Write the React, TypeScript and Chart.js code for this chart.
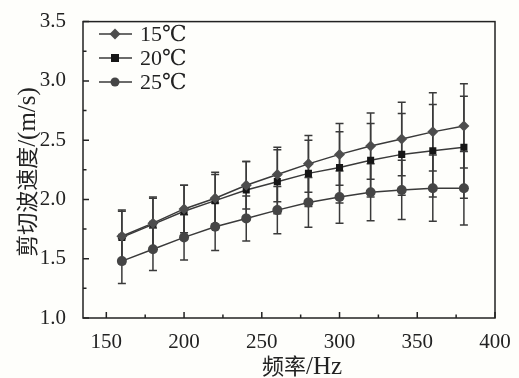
import React, { useEffect, useRef } from "react";
import { Chart, registerables } from "chart.js";

Chart.register(...registerables);

const freqs = [160, 180, 200, 220, 240, 260, 280, 300, 320, 340, 360, 380];
const v15 = [1.69, 1.8, 1.92, 2.01, 2.12, 2.21, 2.3, 2.38, 2.45, 2.51, 2.57, 2.62];
const e15 = [0.22, 0.22, 0.2, 0.22, 0.2, 0.23, 0.24, 0.26, 0.28, 0.31, 0.33, 0.355];
const v20 = [1.68, 1.79, 1.9, 1.99, 2.08, 2.15, 2.22, 2.27, 2.33, 2.38, 2.41, 2.44];
const e20 = [0.22, 0.22, 0.22, 0.22, 0.24, 0.27, 0.28, 0.3, 0.31, 0.345, 0.39, 0.43];
const v25 = [1.48, 1.58, 1.68, 1.77, 1.84, 1.91, 1.975, 2.02, 2.06, 2.08, 2.095, 2.095];
const e25 = [0.19, 0.18, 0.19, 0.2, 0.19, 0.2, 0.21, 0.22, 0.24, 0.25, 0.28, 0.31];
const seriesLabels = ["15℃", "20℃", "25℃"];
const xTicks = [150, 200, 250, 300, 350, 400];
const xMinor = [175, 225, 275, 325, 375];
const yTicks = [1.0, 1.5, 2.0, 2.5, 3.0, 3.5];
const yMinor = [1.25, 1.75, 2.25, 2.75, 3.25];
const xTitle = "频率/Hz";
const yTitle = "剪切波速度/(m/s)";

const LINE = "#3a3a3a";
const TEXT = "#222";
const FONT = "'Liberation Serif', 'DejaVu Serif', 'Noto Sans CJK SC', serif";
const CJK_FONT = "22px 'Noto Sans CJK SC', sans-serif";
const LAT_FONT = "25px 'Liberation Serif', serif";
const styles = [
  { pointStyle: "rectRot", radius: 5.5, fill: "#4d4d4d" },
  { pointStyle: "rect", radius: 5, fill: "#161616" },
  { pointStyle: "circle", radius: 5, fill: "#454545" },
];
const errs = [e15, e20, e25];

function splitParts(text: string) {
  const parts: { t: string; f: string }[] = [];
  for (const ch of text) {
    const cjk = /[\u4e00-\u9fff]/.test(ch);
    const f = cjk ? CJK_FONT : LAT_FONT;
    if (parts.length && parts[parts.length - 1].f === f) parts[parts.length - 1].t += ch;
    else parts.push({ t: ch, f });
  }
  return parts;
}

function drawMixed(ctx: CanvasRenderingContext2D, text: string, cx: number, cy: number) {
  const parts = splitParts(text);
  let total = 0;
  const widths = parts.map((p) => {
    ctx.font = p.f;
    const w = ctx.measureText(p.t).width;
    total += w;
    return w;
  });
  let x = cx - total / 2;
  ctx.textAlign = "left";
  ctx.textBaseline = "alphabetic";
  parts.forEach((p, i) => {
    ctx.font = p.f;
    ctx.fillText(p.t, x, cy + 8);
    x += widths[i];
  });
}

const customPlugin = {
  id: "custom",
  beforeDraw(chart: any) {
    const ctx = chart.ctx;
    ctx.save();
    ctx.fillStyle = "#fefefb";
    ctx.fillRect(0, 0, chart.width, chart.height);
    ctx.restore();
  },
  beforeDatasetsDraw(chart: any) {
    const ctx = chart.ctx;
    const ys = chart.scales.y;
    ctx.save();
    ctx.strokeStyle = LINE;
    ctx.lineWidth = 1.5;
    chart.data.datasets.forEach((ds: any, i: number) => {
      const meta = chart.getDatasetMeta(i);
      ds.data.forEach((p: any, j: number) => {
        const x = meta.data[j].x;
        const t = ys.getPixelForValue(p.y + errs[i][j]);
        const b = ys.getPixelForValue(p.y - errs[i][j]);
        ctx.beginPath();
        ctx.moveTo(x, t);
        ctx.lineTo(x, b);
        ctx.moveTo(x - 4, t);
        ctx.lineTo(x + 4, t);
        ctx.moveTo(x - 4, b);
        ctx.lineTo(x + 4, b);
        ctx.stroke();
      });
    });
    ctx.restore();
  },
  afterDraw(chart: any) {
    const ctx = chart.ctx;
    const { left, right, top, bottom } = chart.chartArea;
    const xs = chart.scales.x;
    const ys = chart.scales.y;
    ctx.save();
    ctx.strokeStyle = TEXT;
    ctx.lineWidth = 1.5;
    ctx.strokeRect(left, top, right - left, bottom - top);
    ctx.beginPath();
    xTicks.forEach((v) => {
      const x = xs.getPixelForValue(v);
      ctx.moveTo(x, bottom);
      ctx.lineTo(x, bottom - 6);
    });
    xMinor.forEach((v) => {
      const x = xs.getPixelForValue(v);
      ctx.moveTo(x, bottom);
      ctx.lineTo(x, bottom - 3.5);
    });
    yTicks.forEach((v) => {
      const y = ys.getPixelForValue(v);
      ctx.moveTo(left, y);
      ctx.lineTo(left + 6, y);
    });
    yMinor.forEach((v) => {
      const y = ys.getPixelForValue(v);
      ctx.moveTo(left, y);
      ctx.lineTo(left + 3.5, y);
    });
    ctx.stroke();

    // legend
    ctx.textBaseline = "middle";
    ctx.textAlign = "left";
    seriesLabels.forEach((lab, i) => {
      const y = 34 + i * 24;
      ctx.strokeStyle = LINE;
      ctx.lineWidth = 1.5;
      ctx.beginPath();
      ctx.moveTo(99, y);
      ctx.lineTo(132, y);
      ctx.stroke();
      const st = styles[i];
      ctx.fillStyle = st.fill;
      ctx.beginPath();
      const cx = 115;
      if (st.pointStyle === "rectRot") {
        ctx.moveTo(cx, y - 5.5);
        ctx.lineTo(cx + 5.5, y);
        ctx.lineTo(cx, y + 5.5);
        ctx.lineTo(cx - 5.5, y);
        ctx.closePath();
      } else if (st.pointStyle === "rect") {
        ctx.rect(cx - 4, y - 4, 8, 8);
      } else {
        ctx.arc(cx, y, 4.5, 0, Math.PI * 2);
      }
      ctx.fill();
      ctx.fillStyle = TEXT;
      ctx.font = `22px ${FONT}`;
      ctx.fillText(lab, 140, y + 1);
    });

    // axis titles
    ctx.fillStyle = TEXT;
    drawMixed(ctx, xTitle, 302, 366);
    ctx.translate(27, 172);
    ctx.rotate(-Math.PI / 2);
    drawMixed(ctx, yTitle, 0, 0);
    ctx.restore();
  },
};

export default function App() {
  const ref = useRef<HTMLCanvasElement | null>(null);
  useEffect(() => {
    document.body.style.margin = "0";
    const canvas = ref.current!;
    const chart = new Chart(canvas, {
      type: "line",
      data: {
        datasets: [v15, v20, v25].map((vals, i) => ({
          label: seriesLabels[i],
          data: freqs.map((f, j) => ({ x: f, y: vals[j] })),
          borderColor: LINE,
          borderWidth: 1.5,
          pointStyle: styles[i].pointStyle as any,
          pointRadius: styles[i].radius,
          pointBackgroundColor: styles[i].fill,
          pointBorderColor: styles[i].fill,
          pointBorderWidth: 0,
          tension: 0,
          fill: false,
        })),
      },
      options: {
        animation: false,
        responsive: false,
        devicePixelRatio: 1,
        layout: { padding: { top: 17, right: 24, left: 0, bottom: 0 } },
        plugins: { legend: { display: false }, tooltip: { enabled: false } },
        scales: {
          x: {
            type: "linear",
            min: 135,
            max: 400,
            grid: { display: false },
            border: { display: false },
            afterBuildTicks: (s: any) => {
              s.ticks = xTicks.map((v) => ({ value: v }));
            },
            afterFit: (s: any) => {
              s.height = 60;
            },
            ticks: {
              padding: 4,
              color: TEXT,
              font: { family: "'Liberation Serif', serif", size: 21 },
              maxRotation: 0,
              callback: (v: any) => String(v),
            },
          },
          y: {
            type: "linear",
            min: 1,
            max: 3.5,
            grid: { display: false },
            border: { display: false },
            afterBuildTicks: (s: any) => {
              s.ticks = yTicks.map((v) => ({ value: v }));
            },
            afterFit: (s: any) => {
              s.width = 83;
            },
            ticks: {
              padding: 9,
              color: TEXT,
              font: { family: "'Liberation Serif', serif", size: 21 },
              callback: (v: any) => Number(v).toFixed(1),
            },
          },
        },
      },
      plugins: [customPlugin],
    });
    return () => chart.destroy();
  }, []);
  return <canvas ref={ref} width={519} height={378} style={{ display: "block" }} />;
}
